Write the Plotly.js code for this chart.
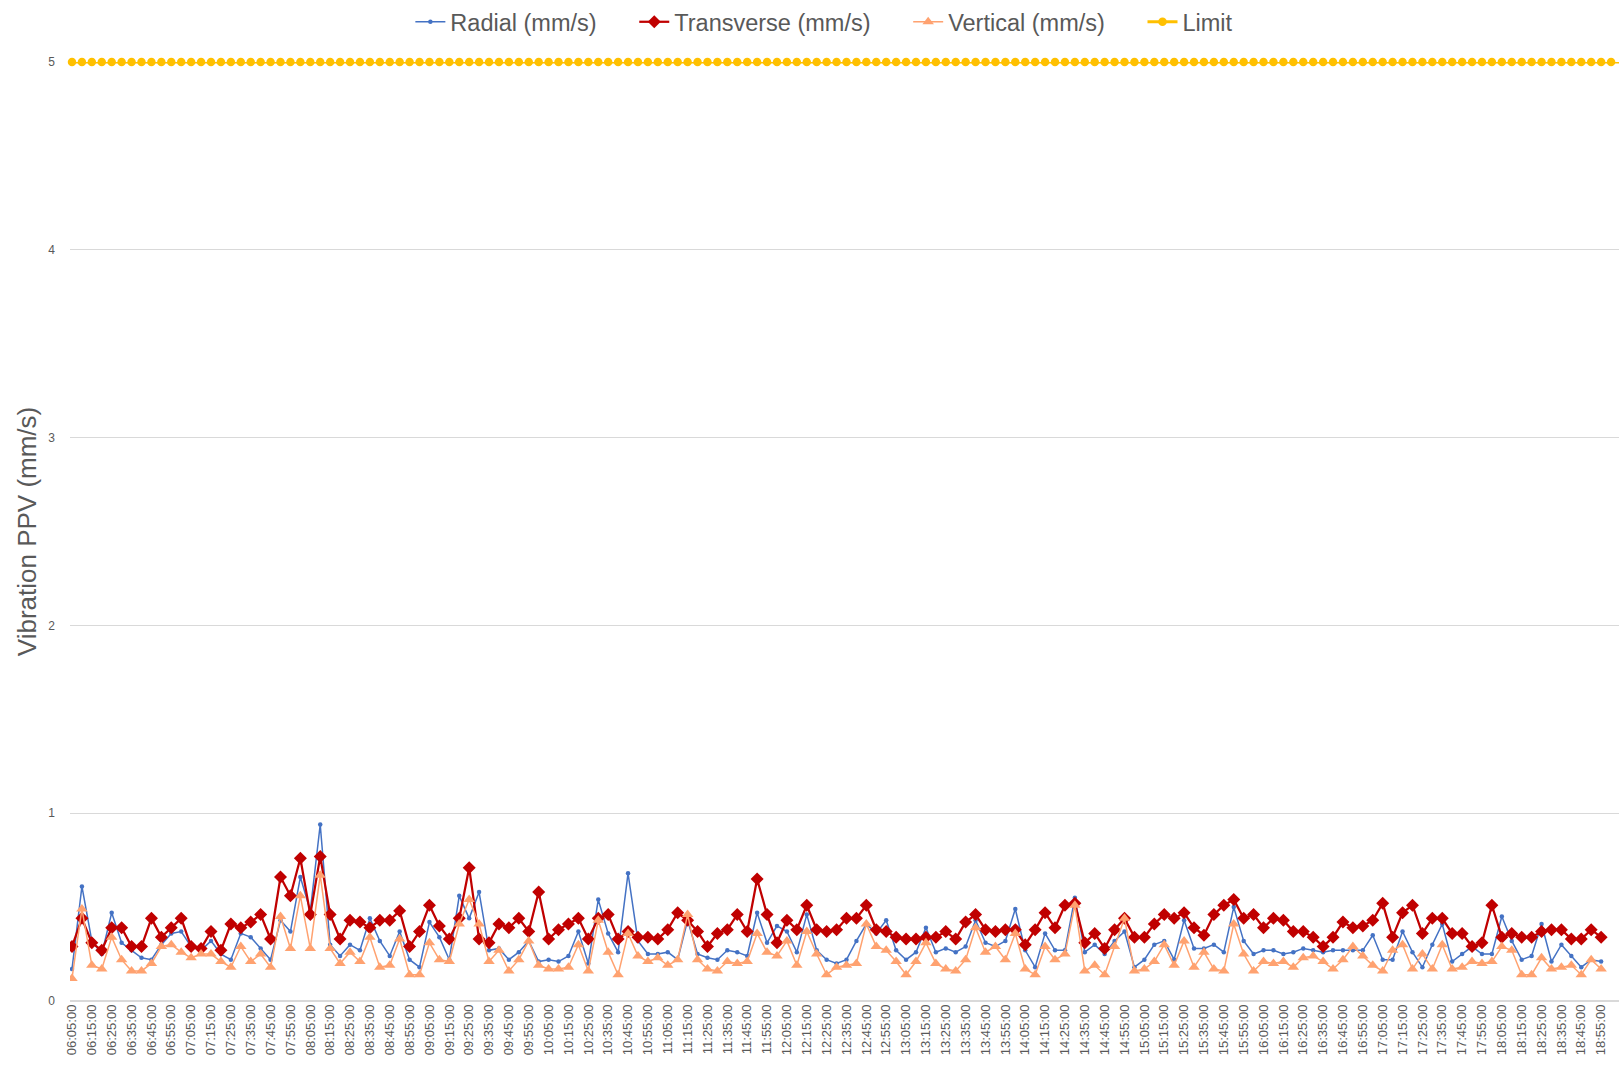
<!DOCTYPE html>
<html>
<head>
<meta charset="utf-8">
<script src="https://cdn.plot.ly/plotly-3.0.1.min.js"></script>
<style>html,body{margin:0;padding:0;background:#fff;}#chart{width:1619px;height:1085px;}</style>
</head>
<body>
<div id="chart"></div>
<script>
const times = [
"06:05:00","06:10:00","06:15:00","06:20:00","06:25:00","06:30:00","06:35:00","06:40:00","06:45:00","06:50:00",
"06:55:00","07:00:00","07:05:00","07:10:00","07:15:00","07:20:00","07:25:00","07:30:00","07:35:00","07:40:00",
"07:45:00","07:50:00","07:55:00","08:00:00","08:05:00","08:10:00","08:15:00","08:20:00","08:25:00","08:30:00",
"08:35:00","08:40:00","08:45:00","08:50:00","08:55:00","09:00:00","09:05:00","09:10:00","09:15:00","09:20:00",
"09:25:00","09:30:00","09:35:00","09:40:00","09:45:00","09:50:00","09:55:00","10:00:00","10:05:00","10:10:00",
"10:15:00","10:20:00","10:25:00","10:30:00","10:35:00","10:40:00","10:45:00","10:50:00","10:55:00","11:00:00",
"11:05:00","11:10:00","11:15:00","11:20:00","11:25:00","11:30:00","11:35:00","11:40:00","11:45:00","11:50:00",
"11:55:00","12:00:00","12:05:00","12:10:00","12:15:00","12:20:00","12:25:00","12:30:00","12:35:00","12:40:00",
"12:45:00","12:50:00","12:55:00","13:00:00","13:05:00","13:10:00","13:15:00","13:20:00","13:25:00","13:30:00",
"13:35:00","13:40:00","13:45:00","13:50:00","13:55:00","14:00:00","14:05:00","14:10:00","14:15:00","14:20:00",
"14:25:00","14:30:00","14:35:00","14:40:00","14:45:00","14:50:00","14:55:00","15:00:00","15:05:00","15:10:00",
"15:15:00","15:20:00","15:25:00","15:30:00","15:35:00","15:40:00","15:45:00","15:50:00","15:55:00","16:00:00",
"16:05:00","16:10:00","16:15:00","16:20:00","16:25:00","16:30:00","16:35:00","16:40:00","16:45:00","16:50:00",
"16:55:00","17:00:00","17:05:00","17:10:00","17:15:00","17:20:00","17:25:00","17:30:00","17:35:00","17:40:00",
"17:45:00","17:50:00","17:55:00","18:00:00","18:05:00","18:10:00","18:15:00","18:20:00","18:25:00","18:30:00",
"18:35:00","18:40:00","18:45:00","18:50:00","18:55:00","19:00:00","19:05:00"
];

const radial = [
0.17,0.61,0.32,0.25,0.47,0.31,0.27,0.23,0.22,0.30,
0.36,0.37,0.29,0.27,0.32,0.25,0.22,0.36,0.34,0.28,
0.22,0.43,0.37,0.66,0.48,0.94,0.30,0.24,0.30,0.27,
0.44,0.32,0.24,0.37,0.22,0.18,0.42,0.34,0.22,0.56,
0.44,0.58,0.27,0.28,0.22,0.26,0.32,0.21,0.22,0.21,
0.24,0.37,0.20,0.54,0.36,0.26,0.68,0.32,0.25,0.25,
0.26,0.22,0.43,0.25,0.23,0.22,0.27,0.26,0.24,0.47,
0.31,0.40,0.37,0.26,0.46,0.27,0.22,0.20,0.22,0.32,
0.41,0.36,0.43,0.27,0.22,0.26,0.39,0.26,0.28,0.26,
0.29,0.43,0.31,0.29,0.32,0.49,0.27,0.18,0.36,0.27,
0.27,0.55,0.26,0.30,0.25,0.32,0.37,0.18,0.22,0.30,
0.32,0.22,0.43,0.28,0.28,0.30,0.26,0.50,0.32,0.25,
0.27,0.27,0.25,0.26,0.28,0.27,0.26,0.27,0.27,0.27,
0.27,0.35,0.22,0.22,0.37,0.26,0.18,0.30,0.41,0.21,
0.25,0.29,0.25,0.25,0.45,0.32,0.22,0.24,0.41,0.21,
0.30,0.24,0.18,0.22,0.21
];

const transverse = [
0.29,0.44,0.31,0.27,0.39,0.39,0.29,0.29,0.44,0.34,
0.39,0.44,0.29,0.28,0.37,0.27,0.41,0.39,0.42,0.46,
0.33,0.66,0.56,0.76,0.46,0.77,0.46,0.33,0.43,0.42,
0.39,0.43,0.43,0.48,0.29,0.37,0.51,0.40,0.33,0.44,
0.71,0.33,0.31,0.41,0.39,0.44,0.37,0.58,0.33,0.38,
0.41,0.44,0.33,0.44,0.46,0.33,0.37,0.34,0.34,0.33,
0.38,0.47,0.43,0.37,0.29,0.36,0.38,0.46,0.37,0.65,
0.46,0.31,0.43,0.38,0.51,0.38,0.37,0.38,0.44,0.44,
0.51,0.38,0.37,0.34,0.33,0.33,0.34,0.34,0.37,0.33,
0.42,0.46,0.38,0.37,0.38,0.38,0.30,0.38,0.47,0.39,
0.51,0.52,0.31,0.36,0.28,0.38,0.44,0.34,0.34,0.41,
0.46,0.44,0.47,0.39,0.35,0.46,0.51,0.54,0.44,0.46,
0.39,0.44,0.43,0.37,0.37,0.34,0.29,0.34,0.42,0.39,
0.40,0.43,0.52,0.34,0.47,0.51,0.36,0.44,0.44,0.36,
0.36,0.29,0.31,0.51,0.34,0.36,0.34,0.34,0.37,0.38,
0.38,0.33,0.33,0.38,0.34
];

const vertical = [
0.12,0.49,0.19,0.17,0.34,0.22,0.16,0.16,0.20,0.29,
0.30,0.26,0.23,0.25,0.25,0.21,0.18,0.29,0.21,0.25,
0.18,0.45,0.28,0.56,0.28,0.67,0.28,0.20,0.26,0.21,
0.34,0.18,0.19,0.33,0.14,0.14,0.31,0.22,0.21,0.41,
0.54,0.41,0.21,0.27,0.16,0.22,0.32,0.19,0.17,0.17,
0.18,0.30,0.16,0.43,0.26,0.14,0.36,0.24,0.21,0.23,
0.19,0.22,0.46,0.22,0.17,0.16,0.21,0.20,0.21,0.36,
0.26,0.24,0.32,0.19,0.37,0.25,0.14,0.18,0.19,0.20,
0.41,0.29,0.27,0.21,0.14,0.21,0.31,0.20,0.17,0.16,
0.22,0.39,0.26,0.29,0.22,0.36,0.17,0.14,0.29,0.22,
0.25,0.51,0.16,0.19,0.14,0.29,0.44,0.16,0.17,0.21,
0.30,0.19,0.32,0.18,0.26,0.17,0.16,0.41,0.25,0.16,
0.21,0.20,0.21,0.18,0.23,0.24,0.21,0.17,0.22,0.29,
0.24,0.19,0.16,0.27,0.30,0.17,0.25,0.17,0.30,0.17,
0.18,0.21,0.20,0.21,0.29,0.27,0.14,0.14,0.23,0.17,
0.18,0.19,0.14,0.22,0.17
];

const limit = [
5,5,5,5,5,5,5,5,5,5, 5,5,5,5,5,5,5,5,5,5, 5,5,5,5,5,5,5,5,5,5,
5,5,5,5,5,5,5,5,5,5, 5,5,5,5,5,5,5,5,5,5, 5,5,5,5,5,5,5,5,5,5,
5,5,5,5,5,5,5,5,5,5, 5,5,5,5,5,5,5,5,5,5, 5,5,5,5,5,5,5,5,5,5,
5,5,5,5,5,5,5,5,5,5, 5,5,5,5,5,5,5,5,5,5, 5,5,5,5,5,5,5,5,5,5,
5,5,5,5,5,5,5,5,5,5, 5,5,5,5,5,5,5,5,5,5, 5,5,5,5,5,5,5,5,5,5,
5,5,5,5,5,5,5
];

const seriesNames = ["Radial (mm/s)", "Transverse (mm/s)", "Vertical (mm/s)", "Limit"];
const yTitle = "Vibration PPV (mm/s)";

const FONT = "Liberation Sans, Arial, sans-serif";
const GREY = "#595959";
const pad = "\u00A0\u00A0\u00A0\u00A0\u00A0";

const traces = [
  {
    x: times.slice(0, radial.length), y: radial, name: seriesNames[0] + pad,
    type: "scatter", mode: "lines+markers",
    line: {color: "#4472C4", width: 1.5},
    marker: {color: "#4472C4", size: 4.5, symbol: "circle"}
  },
  {
    x: times.slice(0, transverse.length), y: transverse, name: seriesNames[1] + pad,
    type: "scatter", mode: "lines+markers",
    line: {color: "#C00000", width: 2.25},
    marker: {color: "#C00000", size: 10, symbol: "diamond"}
  },
  {
    x: times.slice(0, vertical.length), y: vertical, name: seriesNames[2] + pad,
    type: "scatter", mode: "lines+markers",
    line: {color: "#FFA270", width: 1.5},
    marker: {color: "#FFA270", size: 10, symbol: "triangle-up"}
  },
  {
    x: times.slice(0, limit.length), y: limit, name: seriesNames[3],
    type: "scatter", mode: "lines+markers", cliponaxis: false,
    line: {color: "#FFC000", width: 3},
    marker: {color: "#FFC000", size: 8.5, symbol: "circle"}
  }
];

const layout = {
  width: 1619, height: 1085,
  margin: {l: 70, r: 0, t: 61, b: 84, pad: 0},
  paper_bgcolor: "#ffffff", plot_bgcolor: "#ffffff",
  font: {family: FONT, color: GREY},
  showlegend: true,
  legend: {
    orientation: "h", x: 0.487, xanchor: "center", y: 1.0426, yanchor: "middle",
    font: {family: FONT, size: 23.5, color: GREY}, bgcolor: "rgba(0,0,0,0)",
    tracegroupgap: 0
  },
  xaxis: {
    type: "category", range: [-0.2, 155.8],
    tickmode: "linear", tick0: 0, dtick: 2,
    tickangle: -90, tickfont: {family: FONT, size: 13, color: GREY},
    showgrid: false, zeroline: false, showline: false, ticks: "",
    fixedrange: true
  },
  yaxis: {
    range: [0, 5], dtick: 1, tick0: 0,
    showgrid: true, gridcolor: "#D9D9D9", gridwidth: 1.3,
    zeroline: true, zerolinecolor: "#D9D9D9", zerolinewidth: 1.5,
    showline: false, ticks: "",
    tickfont: {family: FONT, size: 12, color: GREY},
    ticklabelstandoff: 14,
    title: {text: yTitle, font: {family: FONT, size: 26, color: GREY}, standoff: 4},
    fixedrange: true
  }
};

Plotly.newPlot("chart", traces, layout, {displayModeBar: false, staticPlot: true});
</script>
</body>
</html>
